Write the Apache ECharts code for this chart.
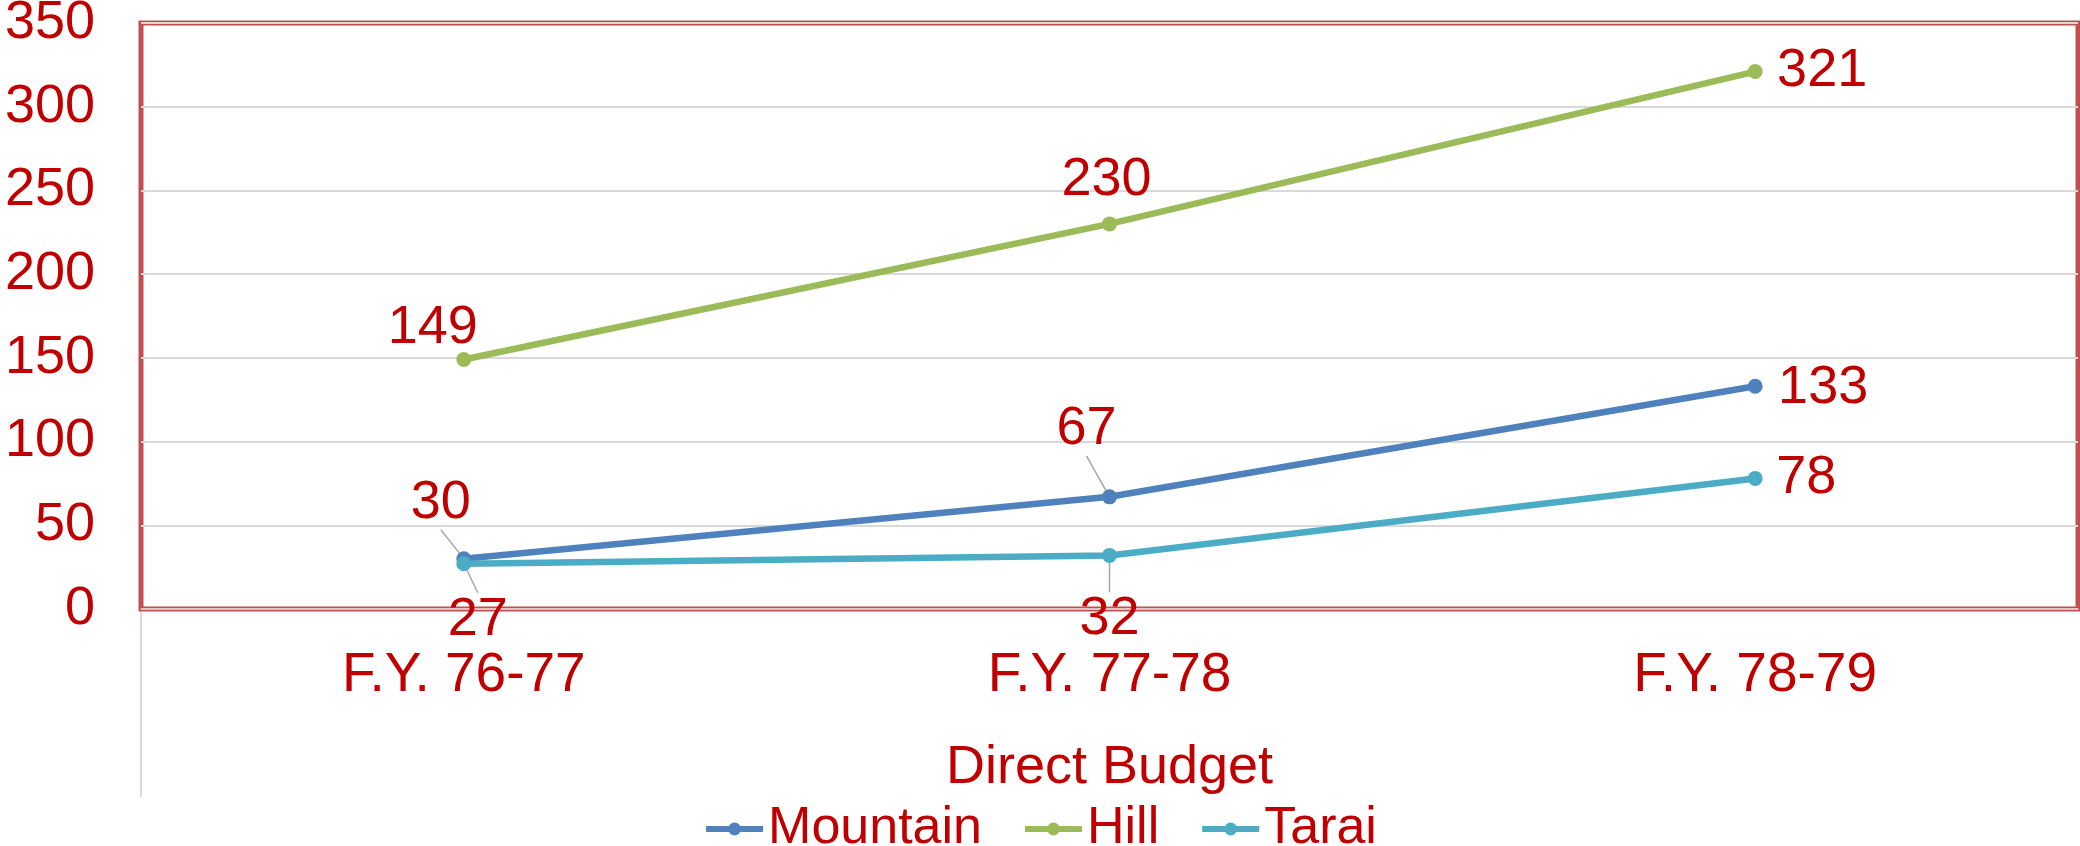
<!DOCTYPE html>
<html>
<head>
<meta charset="utf-8">
<script src="https://cdn.jsdelivr.net/npm/echarts@6/dist/echarts.min.js"></script>
<style>
    html, body { margin: 0; padding: 0; background: #fff; }
    #chart { width: 2080px; height: 846px; }
</style>
</head>
<body>
<div id="chart"></div>
<script>
// chart data
const categories = ['F.Y. 76-77', 'F.Y. 77-78', 'F.Y. 78-79']
const seriesNames = ['Mountain', 'Hill', 'Tarai']
const mountain = [30, 67, 133]
const hill = [149, 230, 321]
const tarai = [27, 32, 78]

const colors = ['#4F81BD', '#9BBB59', '#4BACC6']
const red = '#C00000'
const font = 'Liberation Sans, Arial, sans-serif'

// label centre offset from the point, [dx, dy, show guide line]
const labelShift = [
    [[-23, -56, true], [-23, -68, true], [68, 2, false]],
    [[-31, -31, false], [-3, -44, false], [67, 0, false]],
    [[14, 56, true], [0, 64, true], [51, 0, false]]
]

function makeSeries(name, values, i) {
    return {
        name: name,
        type: 'line',
        data: values.map((v, j) => ({
            value: v,
            labelLine: { show: labelShift[i][j][2] }
        })),
        symbol: 'circle',
        symbolSize: 15,
        color: colors[i],
        lineStyle: { width: 6.5, color: colors[i] },
        label: {
            show: true,
            position: 'inside',
            color: red,
            fontSize: 54,
            fontFamily: font
        },
        labelLine: {
            show: true,
            lineStyle: { color: '#A6A6A6', width: 1.5 }
        },
        labelLayout: function (p) {
            const s = labelShift[i][p.dataIndex]
            return { dx: s[0], dy: s[1] }
        },
        emphasis: { disabled: true }
    }
}

const myChart = echarts.init(document.getElementById('chart'))
const options = {
    animation: false,
    backgroundColor: '#fff',
    grid: {
        left: 141,
        right: 2,
        top: 23,
        bottom: 237,
        show: true,
        borderColor: '#C0504D',
        borderWidth: 5,
        outerBoundsMode: 'none'
    },
    legend: {
        data: seriesNames,
        left: 'center',
        top: 796,
        itemWidth: 57,
        itemHeight: 16,
        itemGap: 40,
        lineStyle: { width: 6 },
        textStyle: { color: red, fontSize: 52, fontFamily: font, lineHeight: 56 }
    },
    xAxis: {
        type: 'category',
        data: categories,
        name: 'Direct Budget',
        nameLocation: 'middle',
        nameGap: 132,
        nameTextStyle: { color: red, fontSize: 54, fontFamily: font },
        axisLine: { lineStyle: { color: '#E6B9B8', width: 1.5 } },
        axisTick: { show: false },
        axisLabel: { color: red, fontSize: 55, fontFamily: font, margin: 39 }
    },
    yAxis: {
        type: 'value',
        min: 0,
        max: 350,
        interval: 50,
        axisLine: { show: false },
        axisTick: { show: false },
        axisLabel: { color: red, fontSize: 54, fontFamily: font, margin: 46 },
        splitLine: { lineStyle: { color: '#D9D9D9', width: 2 } }
    },
    graphic: [
        {
            type: 'line',
            shape: { x1: 141, y1: 612, x2: 141, y2: 797 },
            style: { stroke: '#D9D9D9', lineWidth: 2 }
        }
    ],
    series: [
        makeSeries('Mountain', mountain, 0),
        makeSeries('Hill', hill, 1),
        makeSeries('Tarai', tarai, 2)
    ]
}
myChart.setOption(options)
</script>
</body>
</html>
